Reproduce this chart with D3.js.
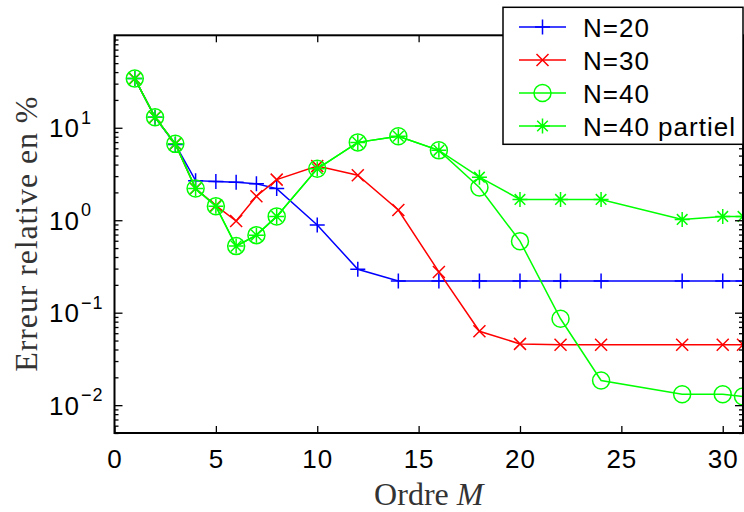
<!DOCTYPE html>
<html><head><meta charset="utf-8">
<script src="https://cdn.jsdelivr.net/npm/d3@7"></script>
<style>body{margin:0;background:#fff}</style>
</head><body><svg id="c" width="744" height="512"></svg>
<script>
// ---- data ----
const M      = [1,2,3,4,5,6,7,8,10,12,14,16,18,20,22,24,28,30,31];
const N20    = [34,13,6.6,2.68,2.62,2.58,2.48,2.2,0.89,0.295,0.22,0.22,0.22,0.22,0.22,0.22,0.22,0.22,0.22];
const N30    = [34,13,6.7,2.2,1.44,0.98,1.82,2.75,3.85,3.07,1.29,0.276,0.063,0.046,0.045,0.045,0.045,0.045,0.045];
const N40    = [34,13,6.7,2.2,1.42,0.525,0.69,1.1,3.6,6.95,8.1,5.7,2.26,0.594,0.086,0.0185,0.0131,0.0131,0.0124];
const N40p   = [34,13,6.7,2.2,1.42,0.525,0.69,1.1,3.6,6.95,8.1,5.7,2.92,1.68,1.68,1.68,1.02,1.1,1.1];
const seriesNames  = ["N=20","N=30","N=40","N=40 partiel"];
const seriesColors = ["#0000ff","#ff0000","#00ff00","#00ff00"];
const seriesMarkers= ["plus","cross","circle","star"];
const xTicks = [0,5,10,15,20,25,30];
const yTicks = [0.01,0.1,1,10];
const yExponents = ["\u22122","\u22121","0","1"];
const xLabel = "Ordre ", xLabelVar = "M";
const yLabel = "Erreur relative en %";

const svg = d3.select("#c");
const L = 114.5, R = 743, T = 35.3, B = 433;
const x = d3.scaleLinear().domain([0,31]).range([L,R]);
const y = d3.scaleLog().domain([0.005,100]).range([B,T]);
const SANS = "Liberation Sans, Arial, Helvetica, sans-serif";

svg.append("defs").append("clipPath").attr("id","clip")
  .append("rect").attr("x",L).attr("y",T).attr("width",R-L).attr("height",B-T);

const series = [N20,N30,N40,N40p];
const plot = svg.append("g").attr("clip-path","url(#clip)");

function marker(g, type, color, cx, cy) {
  const s = g.append("g").attr("transform",`translate(${cx},${cy})`)
    .attr("stroke",color).attr("stroke-width",1.5).attr("fill","none");
  if (type==="plus") {
    s.append("path").attr("d","M-7.5,0H7.5M0,-7.5V7.5");
  } else if (type==="cross") {
    s.append("path").attr("d","M-6,-6L6,6M-6,6L6,-6");
  } else if (type==="circle") {
    s.append("circle").attr("r",8.5);
  } else if (type==="star") {
    s.append("path").attr("d","M-7.5,0H7.5M0,-7.5V7.5M-5.3,-5.3L5.3,5.3M-5.3,5.3L5.3,-5.3");
  }
}

const line = d3.line().x(d=>x(d[0])).y(d=>y(d[1]));
series.forEach((vals,i)=>{
  const pts = M.map((m,j)=>[m,vals[j]]);
  plot.append("path").attr("d",line(pts)).attr("fill","none")
    .attr("stroke",seriesColors[i]).attr("stroke-width",1.5);
  pts.forEach(p=>marker(plot, seriesMarkers[i], seriesColors[i], x(p[0]), y(p[1])));
});

// ---- axes ----
const ax = svg.append("g");
const xb = ax.append("g").attr("transform",`translate(0,${B})`)
  .call(d3.axisBottom(x).tickValues(xTicks).tickSize(-7).tickFormat(d3.format("d")));
const xt = ax.append("g").attr("transform",`translate(0,${T})`)
  .call(d3.axisTop(x).tickValues(xTicks).tickSize(-7).tickFormat(""));
[xb,xt].forEach(g=>{g.select(".domain").remove(); g.selectAll("line").attr("stroke","#000").attr("stroke-width",1.3);});
xb.selectAll("text").attr("font-family",SANS).attr("font-size",26)
  .attr("letter-spacing",1).attr("fill","#000").attr("dy",0).attr("y",35);

const minor = [];
for (let e=-3;e<=1;e++) for (let k=2;k<=9;k++){ const v=k*Math.pow(10,e); if(v>=0.005 && v<100) minor.push(v); }
const yl = ax.append("g").attr("transform",`translate(${L},0)`)
  .call(d3.axisLeft(y).tickValues(yTicks).tickSize(-8).tickFormat(""));
const yr = ax.append("g").attr("transform",`translate(${R},0)`)
  .call(d3.axisRight(y).tickValues(yTicks).tickSize(-8).tickFormat(""));
const ylm = ax.append("g").attr("transform",`translate(${L},0)`)
  .call(d3.axisLeft(y).tickValues(minor).tickSize(-4).tickFormat(""));
const yrm = ax.append("g").attr("transform",`translate(${R},0)`)
  .call(d3.axisRight(y).tickValues(minor).tickSize(-4).tickFormat(""));
[yl,yr,ylm,yrm].forEach(g=>{g.select(".domain").remove(); g.selectAll("line").attr("stroke","#000").attr("stroke-width",1.3);});

yTicks.forEach((v,i)=>{
  ax.append("text").attr("x",80).attr("y",y(v)+9.5)
    .attr("font-family",SANS).attr("font-size",26)
    .attr("letter-spacing",1).attr("text-anchor","end").attr("fill","#000").text("10");
  ax.append("text").attr("x",81).attr("y",y(v)-4)
    .attr("font-family",SANS).attr("font-size",18)
    .attr("letter-spacing",1).attr("fill","#000").text(yExponents[i]);
});

ax.append("rect").attr("x",L).attr("y",T).attr("width",R-L).attr("height",B-T)
  .attr("fill","none").attr("stroke","#000").attr("stroke-width",2);

const xl = svg.append("text").attr("x",(L+R)/2).attr("y",505).attr("text-anchor","middle")
  .attr("font-family","Liberation Serif, Times New Roman, serif").attr("font-size",32).attr("fill","#333");
xl.append("tspan").text(xLabel);
xl.append("tspan").attr("font-style","italic").text(xLabelVar);

svg.append("text").attr("transform",`translate(37,${(T+B)/2}) rotate(-90)`).attr("text-anchor","middle")
  .attr("font-family","Liberation Serif, Times New Roman, serif").attr("font-size",32).attr("fill","#333")
  .attr("textLength",275).attr("lengthAdjust","spacing").text(yLabel);

const lg = svg.append("g");
lg.append("rect").attr("x",503).attr("y",7.3).attr("width",240).attr("height",137)
  .attr("fill","#fff").attr("stroke","#000").attr("stroke-width",1.5);
seriesNames.forEach((n,i)=>{
  const ry = 27 + i*33;
  lg.append("line").attr("x1",519).attr("x2",566).attr("y1",ry).attr("y2",ry)
    .attr("stroke",seriesColors[i]).attr("stroke-width",1.5);
  marker(lg, seriesMarkers[i], seriesColors[i], 542.5, ry);
  lg.append("text").attr("x",583).attr("y",ry+9.5)
    .attr("font-family",SANS).attr("font-size",26)
    .attr("letter-spacing",1).attr("fill","#000").text(n);
});
</script></body></html>
